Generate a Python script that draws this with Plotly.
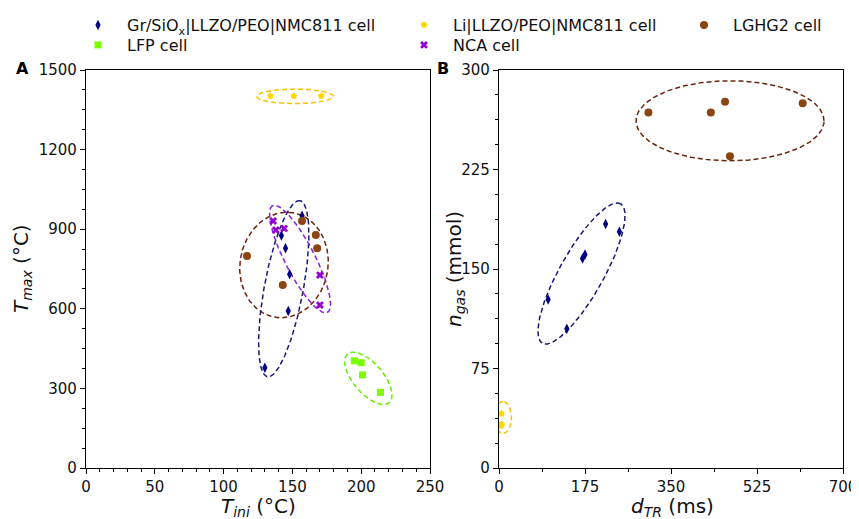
import numpy as np
import plotly.graph_objects as go

# ---------------- data ----------------
# Panel A: T_ini (°C) vs T_max (°C)
gr_tini = [130, 142, 145, 148, 147, 157]
gr_tmax = [378, 876, 828, 730, 592, 951]
li_tini = [134, 151, 171]
li_tmax = [1402, 1402, 1402]
lghg2_tini = [117, 157, 167, 168, 143]
lghg2_tmax = [799, 931, 878, 828, 690]
lfp_tini = [195, 200, 201, 214]
lfp_tmax = [404, 397, 351, 285]
nca_tini = [136, 138, 144, 170, 170]
nca_tmax = [931, 897, 903, 727, 614]

# Panel B: d_TR (ms) vs n_gas (mmol)
gr_dtr = [100, 138, 170, 175, 217, 245]
gr_ngas = [127, 105, 158, 161, 184, 178]
li_dtr = [5, 5, 5]
li_ngas = [41, 32, 33]
lghg2_dtr = [304, 431, 460, 618, 470]
lghg2_ngas = [268, 268, 276, 275, 235]

series_names = ["Gr/SiO<sub>x</sub>|LLZO/PEO|NMC811 cell", "LFP cell",
                "Li|LLZO/PEO|NMC811 cell", "NCA cell", "LGHG2 cell"]

# cluster ellipses: centre (data units), semi-axes (px), angle (deg)
ellA_gr = (143.7, 675.8, 89.5, 19.5, 79.5)
ellA_li = (151.9, 1400.7, 38.3, 7.3, 0)
ellA_lghg2 = (143.9, 765.0, 53, 44, 80)
ellA_lfp = (205.2, 338.0, 32, 15, 130.6)
ellA_nca = (155.5, 787.7, 60, 15, 117.2)
ellB_gr = (167.9, 146.6, 80, 22, 60.7)
ellB_li = (8.1, 38.1, 16, 8.5, 90)
ellB_lghg2 = (470.1, 261.7, 94, 40, 0)

# ---------------- layout constants ----------------
# the page body adds an 8 px offset, so figure-internal pixel positions are shifted
OFF = 8
W, H = 859, 519
ML, MT = 86 - OFF, 70 - OFF
MR = W - (843 - OFF)
MB = H - (468 - OFF)
PW = W - ML - MR
PH = H - MT - MB
BOX_W, BOX_H = 344, 398
xA_range, yA_range = [0, 250], [0, 1500]
xB_range, yB_range = [0, 700], [0, 300]

C_GR, C_LI, C_LG, C_LFP, C_NCA = "#000080", "#FFD700", "#8B4513", "#7CFC00", "#9400D3"
E_GR, E_LI, E_LG, E_LFP, E_NCA = "#1a1a75", "#F5C400", "#6B240C", "#66EE00", "#8A22D8"

FONT = "DejaVu Sans"


def px_to_paper(px, py):
    """page pixel -> paper coords"""
    return (px - OFF - ML) / PW, 1 - (py - OFF - MT) / PH


def ellipse(p, xr, yr):
    cx, cy, a, b, ang = p
    t = np.linspace(0, 2 * np.pi, 240)
    th = np.deg2rad(ang)
    u = a * np.cos(t) * np.cos(th) - b * np.sin(t) * np.sin(th)
    v = a * np.cos(t) * np.sin(th) + b * np.sin(t) * np.cos(th)
    x = cx + u * (xr[1] - xr[0]) / BOX_W
    y = cy + v * (yr[1] - yr[0]) / BOX_H
    return x, y


fig = go.Figure()

# ellipses
for p, col, xa, ya, xr, yr in [
    (ellA_lghg2, E_LG, "x", "y", xA_range, yA_range),
    (ellA_gr, E_GR, "x", "y", xA_range, yA_range),
    (ellA_nca, E_NCA, "x", "y", xA_range, yA_range),
    (ellA_li, E_LI, "x", "y", xA_range, yA_range),
    (ellA_lfp, E_LFP, "x", "y", xA_range, yA_range),
    (ellB_gr, E_GR, "x2", "y2", xB_range, yB_range),
    (ellB_li, E_LI, "x2", "y2", xB_range, yB_range),
    (ellB_lghg2, E_LG, "x2", "y2", xB_range, yB_range),
]:
    ex, ey = ellipse(p, xr, yr)
    fig.add_trace(go.Scatter(x=ex, y=ey, mode="lines", xaxis=xa, yaxis=ya,
                             line=dict(color=col, width=1.5, dash="5px,3px"),
                             showlegend=False, hoverinfo="skip"))

# markers
specs = [
    (0, gr_tini, gr_tmax, gr_dtr, gr_ngas, C_GR, "diamond-tall", 7.5, "legend"),
    (1, lfp_tini, lfp_tmax, None, None, C_LFP, "square", 7, "legend2"),
    (2, li_tini, li_tmax, li_dtr, li_ngas, C_LI, "pentagon", 7, "legend3"),
    (3, nca_tini, nca_tmax, None, None, C_NCA, "x", 7, "legend4"),
    (4, lghg2_tini, lghg2_tmax, lghg2_dtr, lghg2_ngas, C_LG, "circle", 8, "legend5"),
]
for i, xa_, ya_, xb_, yb_, col, sym, sz, lg in specs:
    fig.add_trace(go.Scatter(x=xa_, y=ya_, mode="markers", name=series_names[i],
                             marker=dict(color=col, symbol=sym, size=sz, line=dict(width=0)),
                             xaxis="x", yaxis="y", legend=lg, showlegend=True))
    if xb_ is not None:
        fig.add_trace(go.Scatter(x=xb_, y=yb_, mode="markers", name=series_names[i],
                                 marker=dict(color=col, symbol=sym, size=sz, line=dict(width=0)),
                                 xaxis="x2", yaxis="y2", legend=lg, showlegend=False))

tickfont = dict(family=FONT, size=15, color="#111")


def axis(domain, rng, dtick, mdtick, anchor):
    return dict(domain=domain, range=rng, dtick=dtick, tick0=0, anchor=anchor,
                showgrid=False, zeroline=False, showline=True, mirror=True,
                linecolor="black", linewidth=1.2, ticks="outside", ticklen=5,
                tickwidth=1.2, tickcolor="black", tickfont=tickfont,
                ticklabeloverflow="allow",
                minor=dict(dtick=mdtick, tick0=0, ticks="outside", ticklen=3,
                           tickwidth=1, tickcolor="black", showgrid=False))


xdomA = [0, BOX_W / PW]
xdomB = [1 - BOX_W / PW, 1]

# legend boxes: (left, top) in page pixels
legend_px = [(69, 1), (69, 28), (395, 1), (395, 28), (675, 1)]
legends = {}
for k, (lx, ly) in enumerate(legend_px):
    key = "legend" if k == 0 else f"legend{k + 1}"
    legends[key] = dict(x=(lx - OFF) / W, y=1 - (ly - OFF) / H, xref="container", yref="container",
                        xanchor="left", yanchor="top", bgcolor="rgba(0,0,0,0)",
                        font=dict(family=FONT, size=16, color="#111"),
                        itemwidth=48, borderwidth=0)


def text_ann(text, px, py, size, angle=0, bold=False):
    x, y = px_to_paper(px, py)
    return dict(text=text, x=x, y=y, xref="paper", yref="paper", showarrow=False,
                xanchor="center", yanchor="middle", textangle=angle,
                font=dict(family=FONT, size=size, color="#111" if not bold else "black"))


annotations = [
    text_ann("<b>A</b>", 22, 68, 16, bold=True),
    text_ann("<b>B</b>", 443, 68, 16, bold=True),
    text_ann("<i>T</i><sub><i>ini</i></sub> (°C)", 258, 507, 20),
    text_ann("<i>d</i><sub><i>TR</i></sub> (ms)", 672, 507, 20),
    text_ann("<i>T</i><sub><i>max</i></sub> (°C)", 22, 269, 20, angle=-90),
    text_ann("<i>n</i><sub><i>gas</i></sub> (mmol)", 455, 269, 20, angle=-90),
]

fig.update_layout(
    width=W, height=H,
    margin=dict(l=ML, r=MR, t=MT, b=MB, autoexpand=False),
    plot_bgcolor="white", paper_bgcolor="white",
    xaxis=axis(xdomA, xA_range, 50, 10, "y"),
    yaxis=axis([0, 1], yA_range, 300, 75, "x"),
    xaxis2=axis(xdomB, xB_range, 175, 87.5, "y2"),
    yaxis2=axis([0, 1], yB_range, 75, 18.75, "x2"),
    annotations=annotations,
    **legends,
)

fig.write_html("out.html")
